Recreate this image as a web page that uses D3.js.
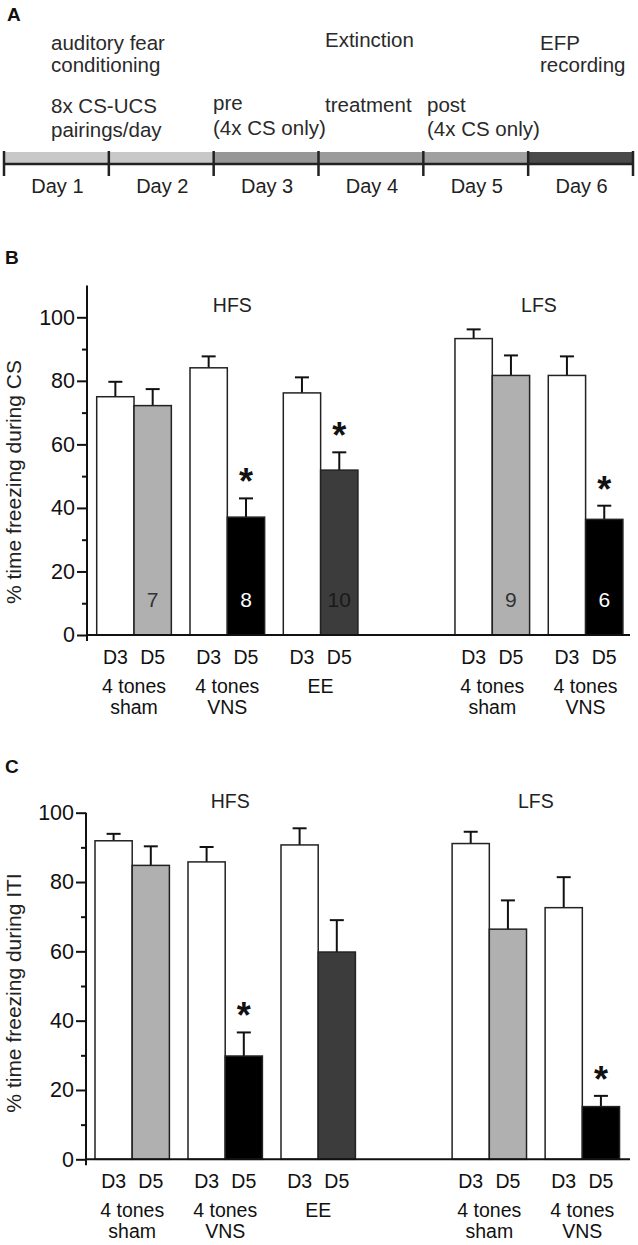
<!DOCTYPE html>
<html>
<head>
<meta charset="utf-8">
<script src="https://cdn.jsdelivr.net/npm/d3@7"></script>
<style>
  body { margin: 0; background: #fff; }
  svg { display: block; font-family: "Liberation Sans", Arial, sans-serif; }
</style>
</head>
<body>
<svg width="638" height="1245"></svg>
<script>
// ---- panel A: protocol timeline ----
days = ["Day 1", "Day 2", "Day 3", "Day 4", "Day 5", "Day 6"];
dayColors = ["#c8c8c8", "#c8c8c8", "#979797", "#9b9b9b", "#a0a0a0", "#4a4a4a"];

// ---- panels B / C: groups ----
groupLabels = [["4 tones", "sham"], ["4 tones", "VNS"], ["EE"], ["4 tones", "sham"], ["4 tones", "VNS"]];
dayLabels = ["D3", "D5"];
stimLabels = ["HFS", "LFS"];
stimGroups = [[0, 1, 2], [3, 4]];
d5Colors = ["#b0b0b0", "#000000", "#3c3c3c", "#b0b0b0", "#000000"];
nColors = ["#333", "#fff", "#1a1a1a", "#333", "#fff"];

// % freezing during CS (panel B)
csD3 = [75.0, 84.1, 76.2, 93.3, 81.7];
csD3sem = [4.7, 3.6, 4.9, 2.9, 6.0];
csD5 = [72.2, 37.1, 51.9, 81.7, 36.4];
csD5sem = [5.2, 5.9, 5.6, 6.3, 4.3];
csN = [7, 8, 10, 9, 6];
csSig = [false, true, true, false, true];

// % freezing during ITI (panel C)
itiD3 = [91.9, 85.8, 90.7, 91.1, 72.6];
itiD3sem = [2.0, 4.3, 4.8, 3.4, 8.8];
itiD5 = [84.8, 29.8, 59.8, 66.4, 15.2];
itiD5sem = [5.5, 6.8, 9.2, 8.3, 3.1];
itiSig = [false, true, false, false, true];

yTicks = [0, 20, 40, 60, 80, 100];
yMinor = [10, 30, 50, 70, 90];

const svg = d3.select("svg");
svg.append("rect").attr("width", 638).attr("height", 1245).attr("fill", "#fff");

function drawTimeline() {
  const g = svg.append("g");
  const x = d3.scaleLinear().domain([0, days.length]).range([4, 633]);

  g.append("text").attr("x", 7).attr("y", 21)
    .attr("font-weight", "bold").attr("font-size", 19).attr("fill", "#111").text("A");

  g.selectAll("rect.day").data(days).join("rect")
      .attr("x", (d, i) => x(i)).attr("y", 152)
      .attr("width", (d, i) => x(i + 1) - x(i)).attr("height", 11)
      .attr("fill", (d, i) => dayColors[i]);

  g.append("line").attr("x1", x(0)).attr("x2", x(days.length))
      .attr("y1", 164).attr("y2", 164).attr("stroke", "#222").attr("stroke-width", 2.5);

  g.selectAll("line.tick").data(d3.range(days.length + 1)).join("line")
      .attr("x1", d => x(d)).attr("x2", d => x(d))
      .attr("y1", 151).attr("y2", 176)
      .attr("stroke", "#222").attr("stroke-width", 2.5);

  g.selectAll("text.day").data(days).join("text")
      .attr("x", (d, i) => (x(i) + x(i + 1)) / 2 + 1).attr("y", 193)
      .attr("text-anchor", "middle").attr("font-size", 20).attr("fill", "#222")
      .text(d => d);

  const notes = [
    [51, 50, "auditory fear"], [51, 72, "conditioning"],
    [51, 113, "8x CS-UCS"], [51, 137, "pairings/day"],
    [213, 110, "pre"], [213, 135, "(4x CS only)"],
    [325, 47, "Extinction"], [325, 112, "treatment"],
    [427, 112, "post"], [427, 136, "(4x CS only)"],
    [540, 49.5, "EFP"], [540, 71.5, "recording"]
  ];
  g.selectAll("text.note").data(notes).join("text")
      .attr("x", d => d[0]).attr("y", d => d[1])
      .attr("font-size", 20.5).attr("fill", "#2a2a2a")
      .text(d => d[2]);
}

function drawPanel(cfg) {
  const g = svg.append("g");
  const y = d3.scaleLinear().domain([0, 100]).range([cfg.y0, cfg.y100]);
  const bw = cfg.step * 0.4;
  // pair position: the LFS groups sit after a wider gap
  const pos = i => i + (i >= 3 ? 0.84 : 0);
  const x = d3.scaleLinear().domain([0, 1]).range([cfg.x0, cfg.x0 + cfg.step]);

  g.append("text").attr("x", 5).attr("y", cfg.letterY)
    .attr("font-weight", "bold").attr("font-size", 19).attr("fill", "#111").text(cfg.letter);

  // bars
  const bars = [];
  groupLabels.forEach((gl, i) => {
    bars.push({i, day: 0, v: cfg.d3[i], e: cfg.d3sem[i], fill: "#fff", left: x(pos(i))});
    bars.push({i, day: 1, v: cfg.d5[i], e: cfg.d5sem[i], fill: d5Colors[i], left: x(pos(i)) + bw});
  });

  g.selectAll("line.err").data(bars).join("line")
      .attr("x1", d => d.left + bw / 2).attr("x2", d => d.left + bw / 2)
      .attr("y1", d => y(d.v)).attr("y2", d => y(d.v + d.e))
      .attr("stroke", "#111").attr("stroke-width", 2);
  g.selectAll("line.cap").data(bars).join("line")
      .attr("x1", d => d.left + bw / 2 - 7).attr("x2", d => d.left + bw / 2 + 7)
      .attr("y1", d => y(d.v + d.e)).attr("y2", d => y(d.v + d.e))
      .attr("stroke", "#111").attr("stroke-width", 2);

  g.selectAll("rect.bar").data(bars).join("rect")
      .attr("x", d => d.left).attr("y", d => y(d.v))
      .attr("width", bw).attr("height", d => y(0) - y(d.v))
      .attr("fill", d => d.fill).attr("stroke", "#222").attr("stroke-width", 1.5);

  // significance stars on D5
  g.selectAll("text.star").data(bars.filter(d => d.day === 1 && cfg.sig[d.i])).join("text")
      .attr("x", d => d.left + bw / 2).attr("y", d => y(d.v + d.e) - 4)
      .attr("text-anchor", "middle").attr("font-weight", "bold").attr("font-size", 36)
      .attr("fill", "#111").text("*");

  // n per group
  if (cfg.n) {
    g.selectAll("text.n").data(bars.filter(d => d.day === 1)).join("text")
        .attr("x", d => d.left + bw / 2).attr("y", y(0) - 28)
        .attr("text-anchor", "middle").attr("font-size", 21)
        .attr("fill", d => nColors[d.i]).text(d => cfg.n[d.i]);
  }

  // x baseline and y axis
  g.append("line").attr("x1", cfg.ax).attr("x2", 630)
      .attr("y1", y(0)).attr("y2", y(0)).attr("stroke", "#111").attr("stroke-width", 2);
  g.append("line").attr("x1", cfg.ax).attr("x2", cfg.ax)
      .attr("y1", y(cfg.yTop)).attr("y2", y(0) + 6).attr("stroke", "#111").attr("stroke-width", 2);

  const axis = g.append("g").attr("transform", `translate(${cfg.ax},0)`)
      .call(d3.axisLeft(y).tickValues(yTicks).tickSize(10).tickSizeOuter(0).tickPadding(2));
  axis.select(".domain").remove();
  axis.selectAll("line").attr("stroke", "#111").attr("stroke-width", 2);
  axis.selectAll("text").attr("font-size", 21.5).attr("fill", "#111")
      .attr("font-family", "Liberation Sans, Arial, sans-serif");

  const minor = g.append("g").attr("transform", `translate(${cfg.ax},0)`)
      .call(d3.axisLeft(y).tickValues(yMinor).tickSize(5).tickFormat(""));
  minor.select(".domain").remove();
  minor.selectAll("line").attr("stroke", "#111").attr("stroke-width", 2);

  g.append("text")
      .attr("transform", `translate(21,${cfg.titleY}) rotate(-90)`)
      .attr("text-anchor", "middle").attr("font-size", 21).attr("fill", "#222")
      .text(cfg.title);

  // x labels
  bars.forEach(d => {
    g.append("text").attr("x", d.left + bw / 2).attr("y", y(0) + 29)
      .attr("text-anchor", "middle").attr("font-size", 19.5).attr("fill", "#111")
      .text(dayLabels[d.day]);
  });
  groupLabels.forEach((gl, i) => {
    gl.forEach((t, k) => {
      g.append("text").attr("x", x(pos(i)) + bw).attr("y", y(0) + 58 + k * 21)
        .attr("text-anchor", "middle").attr("font-size", 19.5).attr("fill", "#111")
        .text(t);
    });
  });

  // HFS / LFS
  stimLabels.forEach((s, k) => {
    const gs = stimGroups[k];
    const cx = (x(pos(gs[0])) + x(pos(gs[gs.length - 1])) + 2 * bw) / 2 + (k === 0 ? 5 : 0);
    g.append("text").attr("x", cx).attr("y", cfg.stimY)
      .attr("text-anchor", "middle").attr("font-size", 19.5).attr("fill", "#222").text(s);
  });
}

drawTimeline();

drawPanel({
  letter: "B", letterY: 264,
  y0: 635, y100: 317.3, yTop: 110,
  x0: 96.7, step: 93.3, ax: 87,
  d3: csD3, d3sem: csD3sem, d5: csD5, d5sem: csD5sem,
  n: csN, sig: csSig,
  title: "% time freezing during CS", titleY: 482, stimY: 312
});

drawPanel({
  letter: "C", letterY: 773,
  y0: 1159.3, y100: 812.7, yTop: 100,
  x0: 95, step: 93.0, ax: 86,
  d3: itiD3, d3sem: itiD3sem, d5: itiD5, d5sem: itiD5sem,
  n: null, sig: itiSig,
  title: "% time freezing during ITI", titleY: 993, stimY: 808
});
</script>
</body>
</html>
